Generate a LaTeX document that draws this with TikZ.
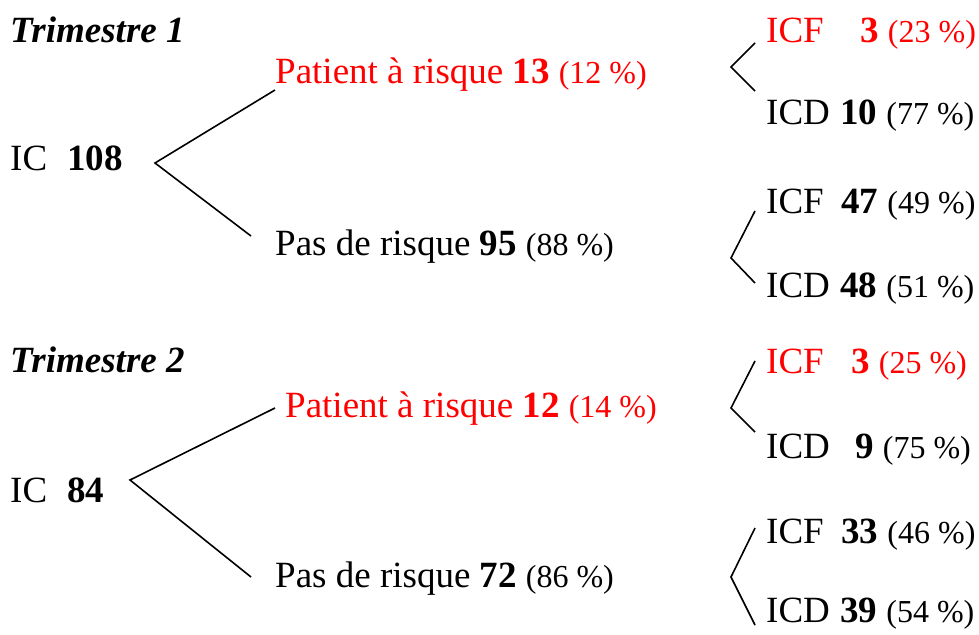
\documentclass[tikz,border=0pt]{standalone}
\usepackage{fontspec}
\setmainfont{Liberation Serif}
\definecolor{riskred}{RGB}{255,0,0}
\newcommand{\pct}[1]{{\fontsize{32}{36}\selectfont(#1~\%)}}
\begin{document}
\begin{tikzpicture}[x=1pt,y=-1pt,
  lbl/.style={anchor=base west,inner sep=0pt,font=\fontsize{37}{42}\selectfont},
  title/.style={lbl,font=\fontsize{37}{42}\selectfont\bfseries\itshape},
  risk/.style={text=riskred},
  branch/.style={draw=black,line width=1.6pt}]
\useasboundingbox (0,0) rectangle (979,634);

% ---------- Trimestre 1 ----------
\node[title] (t1) at (10,42) {Trimestre 1};
\node[lbl] (ic1) at (10,170) {\makebox[57pt][l]{IC}\textbf{108}};
\node[lbl,risk] (r1) at (275,83) {Patient à risque \textbf{13} \pct{12}};
\node[lbl] (n1) at (275,255) {Pas de risque \textbf{95} \pct{88}};
\node[lbl,risk] (r1f) at (766,42) {\makebox[94pt][l]{ICF}\textbf{3} \pct{23}};
\node[lbl] (r1d) at (766,124) {\makebox[74pt][l]{ICD}\textbf{10} \pct{77}};
\node[lbl] (n1f) at (766,213) {\makebox[75pt][l]{ICF}\textbf{47} \pct{49}};
\node[lbl] (n1d) at (766,297) {\makebox[74pt][l]{ICD}\textbf{48} \pct{51}};

\coordinate (v1) at (155,163);
\coordinate (v1a) at (275,90);
\coordinate (v1b) at (251,236);
\draw[branch] (v1a) -- (v1) -- (v1b);

\coordinate (b1) at (731,67);
\coordinate (b1a) at (755,43);
\coordinate (b1b) at (755,91);
\draw[branch] (b1a) -- (b1) -- (b1b);

\coordinate (b2) at (731,258);
\coordinate (b2a) at (755,211);
\coordinate (b2b) at (755,283);
\draw[branch] (b2a) -- (b2) -- (b2b);

% ---------- Trimestre 2 ----------
\node[title] (t2) at (10,372) {Trimestre 2};
\node[lbl] (ic2) at (10,502) {\makebox[57pt][l]{IC}\textbf{84}};
\node[lbl,risk] (r2) at (285,417) {Patient à risque \textbf{12} \pct{14}};
\node[lbl] (n2) at (275,587) {Pas de risque \textbf{72} \pct{86}};
\node[lbl,risk] (r2f) at (766,373) {\makebox[85pt][l]{ICF}\textbf{3} \pct{25}};
\node[lbl] (r2d) at (766,458) {\makebox[89pt][l]{ICD}\textbf{9} \pct{75}};
\node[lbl] (n2f) at (766,543) {\makebox[75pt][l]{ICF}\textbf{33} \pct{46}};
\node[lbl] (n2d) at (766,622) {\makebox[74pt][l]{ICD}\textbf{39} \pct{54}};

\coordinate (v2) at (130,480);
\coordinate (v2a) at (275,408);
\coordinate (v2b) at (251,577);
\draw[branch] (v2a) -- (v2) -- (v2b);

\coordinate (b3) at (731,408);
\coordinate (b3a) at (755,361);
\coordinate (b3b) at (755,432);
\draw[branch] (b3a) -- (b3) -- (b3b);

\coordinate (b4) at (731,577);
\coordinate (b4a) at (755,528);
\coordinate (b4b) at (755,625);
\draw[branch] (b4a) -- (b4) -- (b4b);
\end{tikzpicture}
\end{document}
